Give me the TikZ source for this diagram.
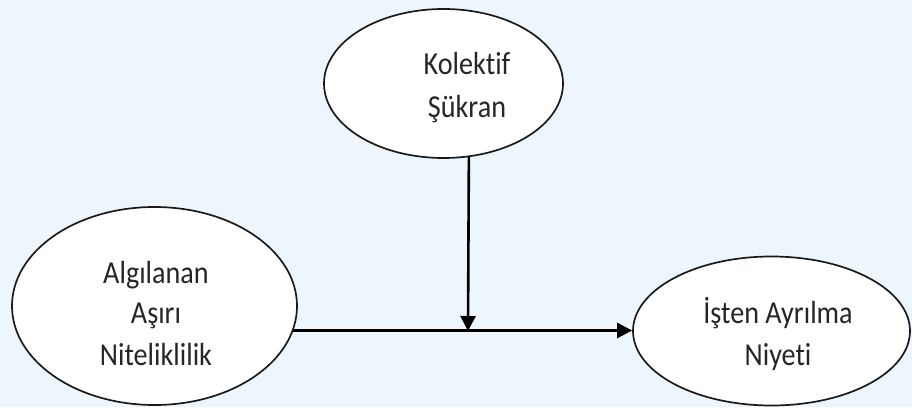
\documentclass[tikz,border=0pt]{standalone}
\usepackage{fontspec}
\setmainfont{Carlito}[Ligatures={NoCommon,NoRequired,NoContextual}]
\usetikzlibrary{shapes.geometric,arrows.meta}
\definecolor{paneblue}{HTML}{EEF6FD}
\definecolor{inkline}{HTML}{1A1A1A}
\tikzset{
  construct/.style={ellipse, draw=inkline, line width=1.7pt, fill=white, inner sep=0pt},
  label/.style={anchor=base, inner sep=0pt, xscale=0.88, transform shape,
    font=\fontsize{32}{40}\selectfont, text=black!85},
  link/.style={draw=black, line width=2.6pt, -{Triangle[length=15pt,width=15pt]}}
}
\begin{document}
\begin{tikzpicture}[x=1pt,y=1pt]
  \useasboundingbox (0,0) rectangle (912,407);
  \fill[paneblue] (0,0) rectangle (912,407);

  % constructs
  \node[construct, minimum width=239pt, minimum height=149pt] (top) at (443.5,323.5) {};
  \node[construct, minimum width=285pt, minimum height=198pt] (left) at (154.5,101) {};
  \node[construct, minimum width=277pt, minimum height=149pt] (right) at (771.5,76) {};

  % construct names
  \node[label] (t1) at (467,332) {Kolektif};
  \node[label] (t2) at (467,289) {Şükran};
  \node[label] (l1) at (156,124) {Algılanan};
  \node[label] (l2) at (156,84) {Aşırı};
  \node[label] (l3) at (156,42) {Niteliklilik};
  \node[label] (r1) at (778,84) {İşten Ayrılma};
  \node[label] (r2) at (778,42) {Niyeti};

  % main effect and moderation
  \draw[link] (left.-10.3) -- (left.-10.3 -| right.west);
  \coordinate (join) at (468,76);
  \draw[link] (top.-71.4) -- (join);
\end{tikzpicture}
\end{document}
